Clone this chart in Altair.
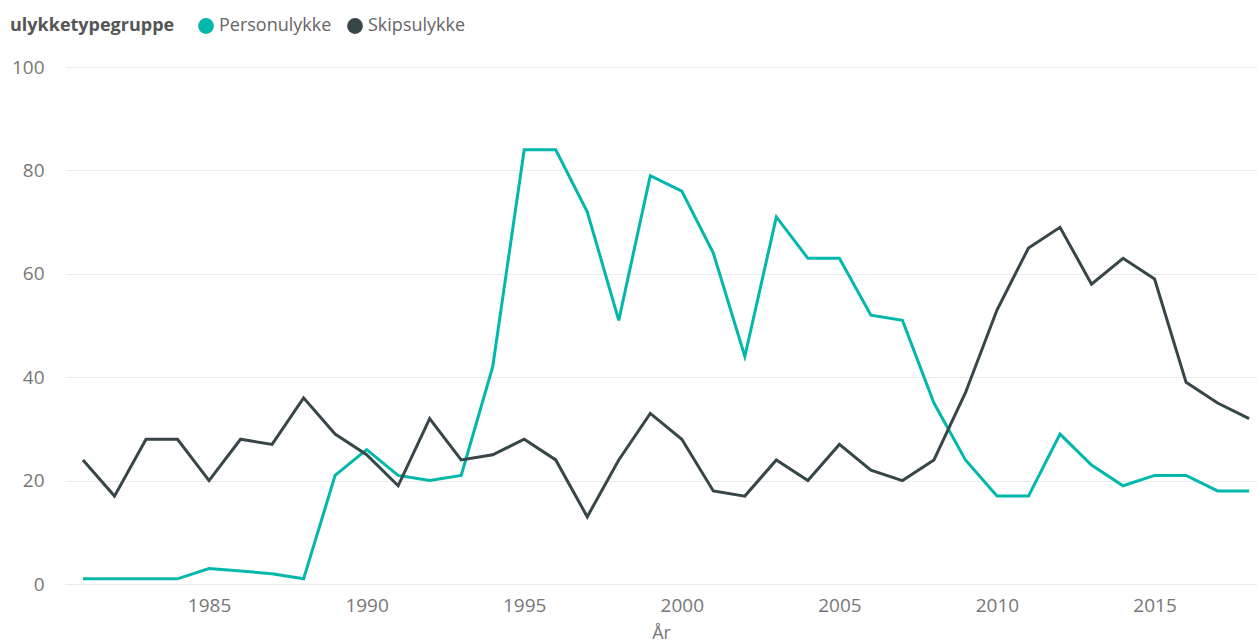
import altair as alt
import pandas as pd

# Annual accident counts by accident type group
years = list(range(1981, 2019))
personulykke = [1, 1, 1, 1, 3, 2.5, 2, 1, 21, 26, 21, 20, 21, 42, 84, 84, 72, 51,
                79, 76, 64, 44, 71, 63, 63, 52, 51, 35, 24, 17, 17, 29, 23, 19, 21,
                21, 18, 18]
skipsulykke = [24, 17, 28, 28, 20, 28, 27, 36, 29, 25, 19, 32, 24, 25, 28, 24, 13,
               24, 33, 28, 18, 17, 24, 20, 27, 22, 20, 24, 37, 53, 65, 69, 58, 63,
               59, 39, 35, 32]
groups = ["Personulykke", "Skipsulykke"]
colors = ["#01B8AA", "#374649"]
x_ticks = [1985, 1990, 1995, 2000, 2005, 2010, 2015]
y_ticks = [0, 20, 40, 60, 80, 100]

df = pd.concat([
    pd.DataFrame({"År": years, "Antall": personulykke, "ulykketypegruppe": groups[0]}),
    pd.DataFrame({"År": years, "Antall": skipsulykke, "ulykketypegruppe": groups[1]}),
])

FONT = "Segoe UI, Open Sans, sans-serif"

x_enc = alt.X(
    "År:Q",
    scale=alt.Scale(domain=[1980.43, 2018.25], nice=False, zero=False),
    axis=alt.Axis(
        values=x_ticks, format="d", grid=False, domain=False, ticks=False,
        labelPadding=12, labelFontSize=19, labelColor="#777777",
        title="År", titleFontSize=18, titleFontWeight="normal",
        titleColor="#777777", titlePadding=9,
    ),
)
y_enc = alt.Y(
    "Antall:Q",
    scale=alt.Scale(domain=[0, 100], nice=False),
    axis=alt.Axis(
        values=y_ticks, grid=True, gridColor="#EAEAEA", gridWidth=1,
        domain=False, ticks=False, labelPadding=21, labelFontSize=19,
        labelColor="#777777", title=None,
    ),
)
color_enc = alt.Color(
    "ulykketypegruppe:N",
    scale=alt.Scale(domain=groups, range=colors),
    legend=alt.Legend(
        orient="none", legendX=-55, legendY=-50, direction="horizontal",
        titleOrient="left", title="ulykketypegruppe",
        titleFontSize=18, titleFontWeight="bold", titleColor="#555555",
        titlePadding=22, labelFontSize=18, labelColor="#666666",
        labelOffset=4, columnPadding=14, symbolType="circle",
        symbolSize=250, symbolStrokeWidth=0, symbolOpacity=1,
    ),
)

base = alt.Chart(df).encode(x=x_enc, y=y_enc, color=color_enc)

lines = base.mark_line(strokeWidth=3, strokeJoin="miter")
# invisible filled points so the legend shows filled circles
dots = base.mark_circle(opacity=0, size=250)

chart = (
    alt.layer(lines, dots)
    .properties(
        width=1192, height=517,
        padding={"left": 65, "top": 67, "right": 0, "bottom": 59},
        autosize=alt.AutoSizeParams(type="none"),
    )
    .configure(font=FONT)
    .configure_view(stroke=None)
)

chart.save("out.html", embed_options={"renderer": "svg", "actions": False})
